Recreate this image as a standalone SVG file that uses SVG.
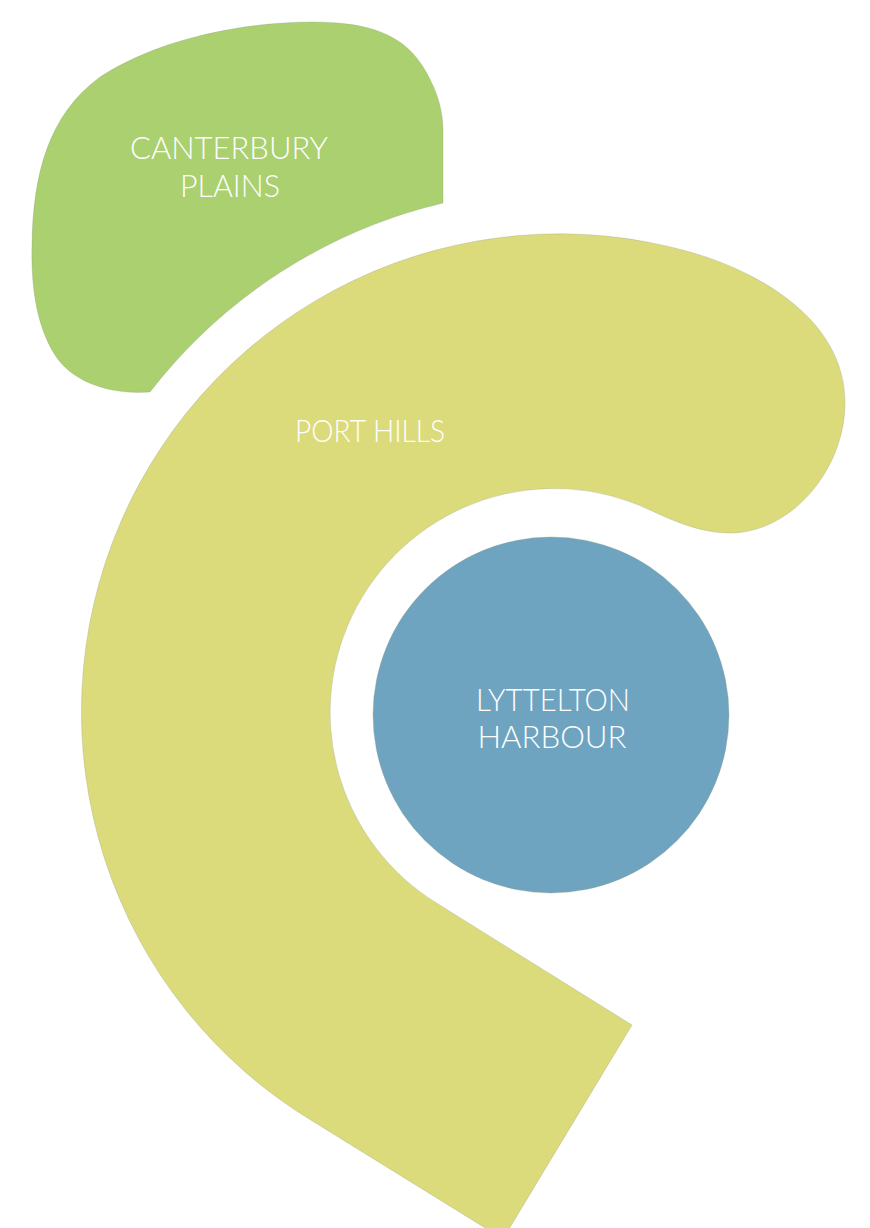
<svg xmlns="http://www.w3.org/2000/svg" width="870" height="1228" viewBox="0 0 870 1228">
  <style>
    .lbl { font-family: "Lato", "Liberation Sans", "DejaVu Sans", sans-serif; font-weight: 300; font-size: 32px; fill: #ffffff; text-anchor: middle; }
    .edge { stroke: #8f9a7a; stroke-width: 0.6; stroke-opacity: 0.5; }
  </style>
  <rect x="0" y="0" width="870" height="1228" fill="#ffffff"/>
  <g id="canterbury-plains">
    <path class="edge" fill="#AAD070" d="M 443,203 A 522 522 0 0 0 150,392 C 110,395 72,382 55,355 C 36,325 31,285 32,245 C 33,175 48,115 100,77 C 160,38 245,22 313,22 C 370,22 405,35 425,70 C 438,92 443,112 443,130 Z"/>
    <text class="lbl" x="229" y="159" textLength="198" lengthAdjust="spacingAndGlyphs">CANTERBURY</text>
    <text class="lbl" x="230" y="197" textLength="100" lengthAdjust="spacingAndGlyphs">PLAINS</text>
  </g>
  <g id="port-hills">
    <path class="edge" fill="#DBDB7B" d="M 314,1122 A 478 478 0 0 1 690,252 C 760,272 845,320 845,403 C 845,470 790,535 727,533 C 700,532 678,523 650,510 A 224 224 0 0 0 438,904 L 632,1025 L 503,1239 Z"/>
    <text class="lbl" x="370" y="442" textLength="150" lengthAdjust="spacingAndGlyphs">PORT HILLS</text>
  </g>
  <g id="lyttelton-harbour">
    <circle class="edge" cx="551" cy="715" r="178" fill="#6FA4C1"/>
    <text class="lbl" x="553" y="711" textLength="154" lengthAdjust="spacingAndGlyphs">LYTTELTON</text>
    <text class="lbl" x="552" y="748" textLength="149" lengthAdjust="spacingAndGlyphs">HARBOUR</text>
  </g>
</svg>
